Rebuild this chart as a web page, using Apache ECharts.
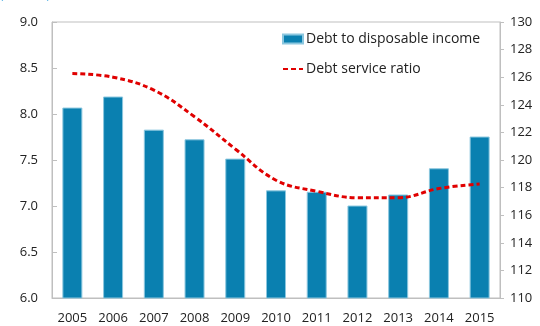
<!DOCTYPE html>
<html><head><meta charset="utf-8">
<script src="https://cdn.jsdelivr.net/npm/echarts@6/dist/echarts.min.js"></script>
<style>html,body{margin:0;padding:0;background:#fff}#c{width:540px;height:326px}</style>
</head><body><div id="c"></div>
<script>
const years = ['2005','2006','2007','2008','2009','2010','2011','2012','2013','2014','2015'];
const debtToIncome = [123.8,124.6,122.2,121.5,120.1,117.8,117.7,116.7,117.5,119.4,121.7];
const debtServiceRatio = [8.44,8.40,8.26,7.97,7.62,7.28,7.16,7.09,7.09,7.19,7.24];
const FONT = 'Open Sans';
const chart = echarts.init(document.getElementById('c'), null, {renderer:'canvas'});
chart.setOption({
  animation:false,
  textStyle:{fontFamily:FONT},
  graphic:[{type:'text',left:0,top:-10,style:{text:'(Percent)',fill:'#5bb4e5',font:'12px '+FONT}}],
  grid:{left:52,right:40,top:22,bottom:28,show:true,borderColor:'#bfbfbf',borderWidth:1},
  legend:{
    orient:'vertical', left:282, top:32, padding:0, itemGap:16, itemWidth:20, itemHeight:9,
    textStyle:{fontSize:14,color:'#222',fontFamily:FONT,padding:[0,0,0,-2]},
    data:[{name:'Debt to disposable income',icon:'rect'},
          {name:'Debt service ratio',itemStyle:{color:'rgba(0,0,0,0)',borderWidth:0,opacity:0}}]
  },
  xAxis:{type:'category',data:years,
    axisLine:{lineStyle:{color:'#bfbfbf'}},
    axisTick:{inside:true,length:5,lineStyle:{color:'#bfbfbf'}},
    axisLabel:{color:'#222',fontSize:13,margin:14,fontFamily:FONT}},
  yAxis:[
    {type:'value',min:6,max:9,interval:0.5,position:'left',
     axisLine:{show:true,lineStyle:{color:'#bfbfbf'}},
     axisTick:{show:true,inside:true,length:5,lineStyle:{color:'#bfbfbf'}},
     splitLine:{show:false},
     axisLabel:{color:'#222',fontSize:13,margin:14,fontFamily:FONT,formatter:v=>v.toFixed(1)}},
    {type:'value',min:110,max:130,interval:2,position:'right',
     axisLine:{show:true,lineStyle:{color:'#bfbfbf'}},
     axisTick:{show:true,inside:false,length:4,lineStyle:{color:'#bfbfbf'}},
     splitLine:{show:false},
     axisLabel:{color:'#222',fontSize:13,margin:10,fontFamily:FONT}}
  ],
  series:[
    {name:'Debt to disposable income',type:'bar',yAxisIndex:1,data:debtToIncome,barWidth:20,
     itemStyle:{color:'#0a80b0',borderColor:'#8cc7df',borderWidth:1}},
    {name:'Debt service ratio',type:'line',yAxisIndex:0,data:debtServiceRatio,smooth:0.4,
     symbol:'none',lineStyle:{color:'#e00000',width:3,type:[5,3]},itemStyle:{color:'#e00000'}}
  ]
});
</script></body></html>
